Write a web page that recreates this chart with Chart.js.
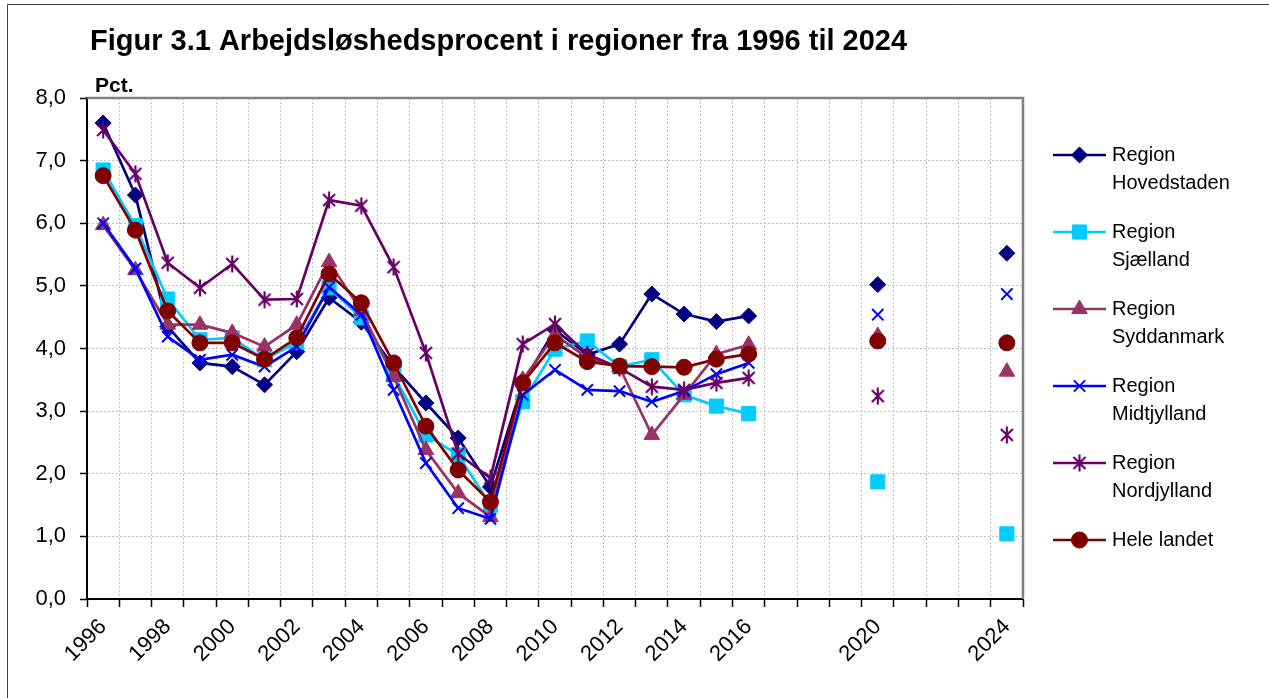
<!DOCTYPE html>
<html>
<head>
<meta charset="utf-8">
<script src="https://cdn.jsdelivr.net/npm/chart.js@4.4.1/dist/chart.umd.min.js"></script>
<style>
  html, body { margin: 0; padding: 0; background: #fff; }
  #wrap { width: 1269px; height: 698px; position: relative; }
</style>
</head>
<body>
<div id="wrap"><canvas id="myChart" width="1269" height="698"></canvas></div>
<script>
const years = ['1996','1997','1998','1999','2000','2001','2002','2003','2004','2005','2006','2007','2008','2009','2010',
  '2011','2012','2013','2014','2015','2016','2017','2018','2019','2020','2021','2022','2023','2024']
const tickLabels = ['1996','1998','2000','2002','2004','2006','2008','2010','2012','2014','2016','2020','2024']

// 1996-2016, then gaps, 2020 and 2024
const hovedstaden = [7.60,6.45,4.35,3.77,3.71,3.42,3.95,4.81,4.42,3.71,3.13,2.57,1.79,3.45,4.30,3.90,4.07,4.87,4.55,4.43,4.52,null,null,null,5.02,null,null,null,5.52]
const sjaelland =   [6.85,5.96,4.79,4.14,4.17,3.82,4.10,4.97,4.49,3.58,2.62,2.30,1.50,3.15,3.99,4.12,3.71,3.82,3.26,3.08,2.96,null,null,null,1.87,null,null,null,1.04]
const syddanmark =  [5.97,5.25,4.38,4.38,4.25,4.03,4.38,5.38,4.60,3.55,2.38,1.69,1.31,3.50,4.22,3.85,3.70,2.62,3.26,3.91,4.06,null,null,null,4.20,null,null,null,3.63]
const midtjylland = [6.00,5.28,4.19,3.82,3.90,3.71,4.03,4.98,4.54,3.34,2.17,1.45,1.28,3.26,3.66,3.34,3.32,3.15,3.32,3.59,3.77,null,null,null,4.54,null,null,null,4.87]
const nordjylland = [7.49,6.79,5.37,4.97,5.35,4.78,4.79,6.37,6.28,5.30,3.93,2.32,1.93,4.07,4.39,3.91,3.69,3.39,3.34,3.45,3.53,null,null,null,3.24,null,null,null,2.62]
const heleLandet =  [6.76,5.89,4.60,4.09,4.09,3.83,4.17,5.19,4.73,3.77,2.76,2.06,1.55,3.45,4.09,3.79,3.72,3.71,3.70,3.83,3.91,null,null,null,4.12,null,null,null,4.09]

const seriesNames = [['Region','Hovedstaden'],['Region','Sjælland'],['Region','Syddanmark'],['Region','Midtjylland'],['Region','Nordjylland'],['Hele landet']]
const colors = ['#000080','#00CCFF','#993366','#0000FF','#660066','#800000']

const FONT = "Arial, 'Liberation Sans', sans-serif"

// asterisk marker like the spreadsheet one: X with a vertical stroke
function makeStar(color){
  const c = document.createElement('canvas')
  c.width = 18; c.height = 18
  const g = c.getContext('2d')
  g.strokeStyle = color
  g.lineWidth = 2.2
  g.beginPath()
  g.moveTo(3,3); g.lineTo(15,15)
  g.moveTo(15,3); g.lineTo(3,15)
  g.moveTo(9,0.5); g.lineTo(9,17.5)
  g.stroke()
  return c
}
const starImg = makeStar(colors[4])

const styles = [
  {pointStyle:'rectRot', radius:8},
  {pointStyle:'rect', radius:10},
  {pointStyle:'triangle', radius:9},
  {pointStyle:'crossRot', radius:8},
  {pointStyle:starImg, radius:9},
  {pointStyle:'circle', radius:8}
]

const allData = [hovedstaden, sjaelland, syddanmark, midtjylland, nordjylland, heleLandet]

const datasets = allData.map((d,i)=>({
  label: seriesNames[i].join(' '),
  data: d,
  borderColor: colors[i],
  backgroundColor: colors[i],
  borderWidth: 2.7,
  pointStyle: styles[i].pointStyle,
  pointRadius: styles[i].radius,
  pointBorderWidth: i==3 ? 2 : 1,
  pointHoverRadius: styles[i].radius,
  spanGaps: false,
  tension: 0,
  order: 5 - i
}))

const frame = {
  id: 'frame',
  afterDraw(chart){
    const c = chart.ctx
    const a = chart.chartArea
    c.save()
    // outer frame
    c.strokeStyle = '#404040'
    c.lineWidth = 1
    c.beginPath()
    c.moveTo(7.5, 698); c.lineTo(7.5, 4.5); c.lineTo(1269, 4.5)
    c.stroke()
    // grey top and right border of the plot
    c.strokeStyle = '#808080'
    c.lineWidth = 2.5
    c.beginPath()
    c.moveTo(a.left, a.top); c.lineTo(a.right, a.top); c.lineTo(a.right, a.bottom)
    c.stroke()
    // title
    c.fillStyle = '#000'
    c.textBaseline = 'middle'
    c.textAlign = 'left'
    c.font = 'bold 29px ' + FONT
    c.fillText('Figur 3.1 Arbejdsløshedsprocent i regioner fra 1996 til 2024', 90, 42)
    c.font = 'bold 21px ' + FONT
    c.fillText('Pct.', 95, 86)
    // legend
    c.font = '20px ' + FONT
    seriesNames.forEach((nm,i)=>{
      const y = 155 + i*77
      c.strokeStyle = colors[i]
      c.lineWidth = 2.5
      c.beginPath(); c.moveTo(1053, y); c.lineTo(1106, y); c.stroke()
      c.fillStyle = colors[i]
      c.strokeStyle = colors[i]
      c.lineWidth = i==3 ? 2 : 1
      Chart.helpers.drawPoint(c, {pointStyle: styles[i].pointStyle, radius: styles[i].radius, rotation: 0, borderWidth: i==3 ? 2 : 1}, 1079.5, y)
      c.fillStyle = '#000'
      nm.forEach((t,k)=> c.fillText(t, 1112, y + k*28))
    })
    c.restore()
  }
}

const ctx = document.getElementById('myChart')
const config = {
  type: 'line',
  data: { labels: years, datasets: datasets },
  options: {
    responsive: false,
    animation: false,
    events: [],
    layout: { padding: { left: 0, top: 98, right: 246, bottom: 0 } },
    scales: {
      x: {
        type: 'category',
        offset: true,
        grid: { offset: true, color: '#c0c0c0', lineWidth: 1, tickColor: '#000', tickLength: 8, tickWidth: 1.5, tickBorderDash: [1,0] },
        border: { color: '#000', width: 2, dash: [2,2] },
        ticks: {
          autoSkip: false, maxRotation: 45, minRotation: 45, color: '#000', padding: 7,
          font: { family: FONT, size: 22 },
          callback: function(v){ const l = this.getLabelForValue(v); return tickLabels.includes(l) ? l : '' }
        },
        afterFit: s => { s.height = 99 }
      },
      y: {
        min: 0, max: 8,
        grid: { color: '#c0c0c0', lineWidth: 1, tickColor: '#000', tickLength: 7, tickWidth: 1.5, tickBorderDash: [1,0] },
        border: { color: '#000', width: 2, dash: [2,2] },
        ticks: {
          stepSize: 1, color: '#000', padding: 14,
          font: { family: FONT, size: 22 },
          callback: v => v.toFixed(1).replace('.', ',')
        },
        afterFit: s => { s.width = 87 }
      }
    },
    plugins: { legend: { display: false }, title: { display: false }, tooltip: { enabled: false } }
  },
  plugins: [frame]
}
const charts = new Chart(ctx, config)
</script>
</body>
</html>
